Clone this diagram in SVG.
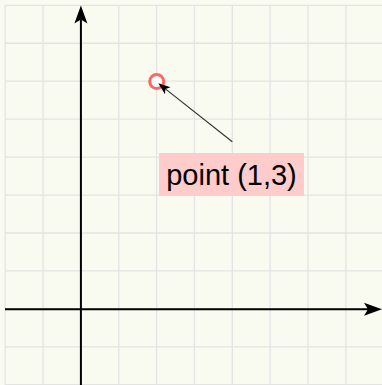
<svg xmlns="http://www.w3.org/2000/svg" width="382" height="385" viewBox="0 0 382 385">
  <style>
    .grid line { stroke: #e3e3e3; stroke-width: 1.3; }
    .axis { stroke: #000; stroke-width: 2; fill: none; }
    .pointer { stroke: #333; stroke-width: 1.2; fill: none; }
    .label-box { fill: #ffcccc; }
    .label-text { font-family: "Liberation Sans", Arial, sans-serif; font-size: 29px; fill: #000; }
    .pt { fill: #ffffff; stroke: #ff6666; stroke-width: 3; }
  </style>
  <defs>
    <marker id="axisArrow" markerUnits="userSpaceOnUse" markerWidth="20" markerHeight="14" viewBox="-18 -7 20 14" refX="-14" refY="0" orient="auto">
      <path d="M0,0 L-18,-6.5 L-14,0 L-18,6.5 Z" fill="#000"/>
    </marker>
    <marker id="ptrArrow" markerUnits="userSpaceOnUse" markerWidth="14" markerHeight="10" viewBox="-13 -5 14 10" refX="-9" refY="0" orient="auto">
      <path d="M0,0 L-12,-4.5 L-9,0 L-12,4.5 Z" fill="#000"/>
    </marker>
  </defs>
  <rect x="0" y="0" width="382" height="385" fill="#fafbf0"/>
  <g id="grid" class="grid">
    <line x1="5.2" y1="5.3" x2="5.2" y2="385"/>
    <line x1="43.05" y1="5.3" x2="43.05" y2="385"/>
    <line x1="80.9" y1="5.3" x2="80.9" y2="385"/>
    <line x1="118.75" y1="5.3" x2="118.75" y2="385"/>
    <line x1="156.6" y1="5.3" x2="156.6" y2="385"/>
    <line x1="194.45" y1="5.3" x2="194.45" y2="385"/>
    <line x1="232.3" y1="5.3" x2="232.3" y2="385"/>
    <line x1="270.15" y1="5.3" x2="270.15" y2="385"/>
    <line x1="308" y1="5.3" x2="308" y2="385"/>
    <line x1="345.85" y1="5.3" x2="345.85" y2="385"/>
    <line x1="5.2" y1="5.3" x2="382" y2="5.3"/>
    <line x1="5.2" y1="43.25" x2="382" y2="43.25"/>
    <line x1="5.2" y1="81.2" x2="382" y2="81.2"/>
    <line x1="5.2" y1="119.15" x2="382" y2="119.15"/>
    <line x1="5.2" y1="157.1" x2="382" y2="157.1"/>
    <line x1="5.2" y1="195.05" x2="382" y2="195.05"/>
    <line x1="5.2" y1="233" x2="382" y2="233"/>
    <line x1="5.2" y1="270.95" x2="382" y2="270.95"/>
    <line x1="5.2" y1="308.9" x2="382" y2="308.9"/>
    <line x1="5.2" y1="346.85" x2="382" y2="346.85"/>
    <line x1="5.2" y1="384.6" x2="382" y2="384.6"/>
  </g>
  <g id="axes">
    <line id="x-axis" class="axis" x1="5" y1="309.2" x2="368" y2="309.2" marker-end="url(#axisArrow)"/>
    <line id="y-axis" class="axis" x1="80.9" y1="385" x2="80.9" y2="19.5" marker-end="url(#axisArrow)"/>
  </g>
  <g id="point">
    <circle class="pt" cx="156.7" cy="81.5" r="7"/>
  </g>
  <g id="label">
    <rect class="label-box" x="159" y="153" width="145" height="43"/>
    <text class="label-text" x="231.5" y="184.5" text-anchor="middle">point (1,3)</text>
  </g>
  <g id="connectors">
    <line class="pointer" x1="232.3" y1="141.7" x2="165.4" y2="88.9" marker-end="url(#ptrArrow)"/>
  </g>
</svg>
